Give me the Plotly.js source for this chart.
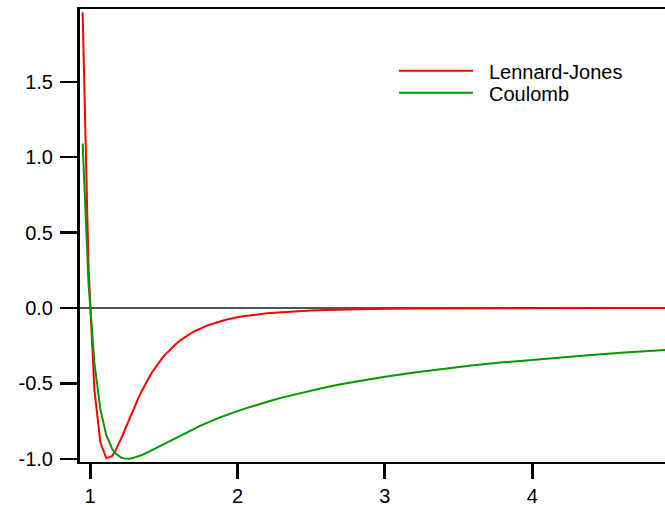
<!DOCTYPE html>
<html>
<head>
<meta charset="utf-8">
<script src="https://cdn.plot.ly/plotly-3.0.1.min.js"></script>
<style>html,body{margin:0;padding:0;background:#fff;}#plot{width:665px;height:505px;}</style>
</head>
<body>
<div id="plot"></div>
<script>
var r = [0.95,0.99,1.03,1.07,1.11,1.15,1.17,1.19,1.21,1.23,1.25,1.27,1.29,1.31,1.33,1.35,1.37,1.39,1.41,1.43,1.45,1.47,1.49,1.51,1.53,1.55,1.57,1.59,1.61,1.63,1.65,1.67,1.69,1.71,1.73,1.75,1.77,1.79,1.81,1.83,1.85,1.87,1.89,1.91,1.93,1.95,1.97,1.99,2.05,2.1,2.15,2.2,2.25,2.3,2.35,2.4,2.45,2.5,2.6,2.7,2.8,2.9,3.0,3.2,3.4,3.6,3.8,4.0,4.2,4.4,4.6,4.8,4.95];
var lennardJones = [1.961,0.264,-0.544,-0.889,-0.995,-0.982,-0.952,-0.913,-0.868,-0.822,-0.774,-0.726,-0.680,-0.635,-0.592,-0.552,-0.514,-0.478,-0.444,-0.413,-0.384,-0.357,-0.332,-0.309,-0.288,-0.268,-0.249,-0.232,-0.216,-0.202,-0.188,-0.176,-0.164,-0.154,-0.144,-0.134,-0.126,-0.118,-0.111,-0.104,-0.097,-0.091,-0.086,-0.081,-0.076,-0.071,-0.067,-0.063,-0.053,-0.046,-0.040,-0.035,-0.031,-0.027,-0.024,-0.021,-0.018,-0.016,-0.013,-0.010,-0.008,-0.007,-0.0055,-0.0037,-0.0026,-0.0018,-0.0013,-0.0010,-0.0007,-0.0006,-0.0004,-0.0003,-0.0003];
var coulomb = [1.091,0.161,-0.368,-0.671,-0.841,-0.933,-0.961,-0.979,-0.991,-0.997,-1.000,-0.999,-0.995,-0.990,-0.983,-0.975,-0.967,-0.957,-0.947,-0.937,-0.927,-0.917,-0.906,-0.896,-0.885,-0.875,-0.865,-0.855,-0.845,-0.835,-0.825,-0.816,-0.806,-0.797,-0.788,-0.780,-0.771,-0.762,-0.754,-0.746,-0.738,-0.730,-0.723,-0.715,-0.708,-0.701,-0.694,-0.687,-0.667,-0.651,-0.636,-0.621,-0.608,-0.594,-0.582,-0.570,-0.558,-0.547,-0.526,-0.506,-0.488,-0.471,-0.456,-0.427,-0.402,-0.380,-0.360,-0.342,-0.326,-0.311,-0.297,-0.285,-0.276];
var seriesNames = ["Lennard-Jones", "Coulomb"];
var seriesColors = ["#ff0000", "#009a00"];
var xTicks = [1, 2, 3, 4];
var yTicks = [-1.0, -0.5, 0.0, 0.5, 1.0, 1.5];
var yTickText = ["-1.0", "-0.5", "0.0", "0.5", "1.0", "1.5"];

var font = {family: "Liberation Sans, Arial, sans-serif", size: 20, color: "#000"};

var traces = [
  {x: r, y: lennardJones, type: "scatter", mode: "lines", name: seriesNames[0],
   line: {color: seriesColors[0], width: 2}},
  {x: r, y: coulomb, type: "scatter", mode: "lines", name: seriesNames[1],
   line: {color: seriesColors[1], width: 2}}
];

// legend drawn manually (paper coords)
var legY = [0.8638, 0.8152];
var shapes = [], annotations = [];
for (var i = 0; i < seriesNames.length; i++) {
  shapes.push({type: "line", xref: "paper", yref: "paper", x0: 0.5453, x1: 0.6718,
               y0: legY[i], y1: legY[i], line: {color: seriesColors[i], width: 2}});
  annotations.push({xref: "paper", yref: "paper", x: 0.6965, y: legY[i] - 0.003, xanchor: "left",
                    yanchor: "middle", text: seriesNames[i], showarrow: false, font: font});
}

var layout = {
  width: 665, height: 505,
  margin: {l: 80, r: 0, t: 9, b: 43, pad: 0},
  paper_bgcolor: "#fff", plot_bgcolor: "#fff",
  showlegend: false,
  font: font,
  xaxis: {range: [0.932, 4.90], tickvals: xTicks, ticktext: xTicks.map(String),
          showgrid: false, zeroline: false, showline: true, linecolor: "#000", linewidth: 2,
          mirror: true, ticks: "outside", ticklen: 15, tickwidth: 3, tickcolor: "#000",
          tickfont: font, ticklabelstandoff: 0},
  yaxis: {range: [-1.021, 1.983], tickvals: yTicks, ticktext: yTickText,
          showgrid: false, zeroline: true, zerolinecolor: "#555", zerolinewidth: 2,
          showline: true, linecolor: "#000", linewidth: 3,
          ticks: "outside", ticklen: 17, tickwidth: 2.5, tickcolor: "#000",
          tickfont: font, ticklabelstandoff: 3},
  shapes: shapes,
  annotations: annotations
};

Plotly.newPlot("plot", traces, layout, {staticPlot: true, displayModeBar: false});
</script>
</body>
</html>
